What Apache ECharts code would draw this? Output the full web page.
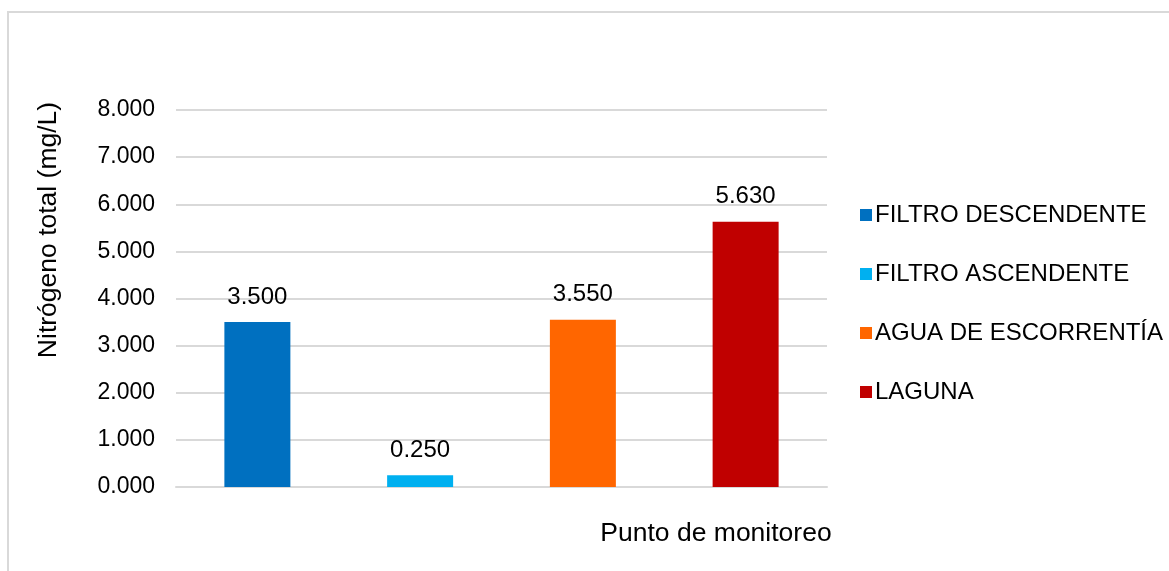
<!DOCTYPE html>
<html>
<head>
<meta charset="utf-8">
<title>Nitrógeno total por punto de monitoreo</title>
<script src="https://cdn.jsdelivr.net/npm/echarts@6/dist/echarts.min.js"></script>
<style>
  html, body { margin: 0; padding: 0; background: #ffffff; }
  #chart { width: 1169px; height: 571px; }
</style>
</head>
<body>
<div id="chart"></div>
<script>
// Monitoring points (one bar each) and total nitrogen values in mg/L
const puntos = ['FILTRO DESCENDENTE', 'FILTRO ASCENDENTE', 'AGUA DE ESCORRENTÍA', 'LAGUNA'];
const nitrogeno = [3.5, 0.25, 3.55, 5.63];
const colores = ['#0070C0', '#00B0F0', '#FF6600', '#C00000'];
const yTicks = [0, 1, 2, 3, 4, 5, 6, 7, 8];

const FONT = '"Liberation Sans", Arial, sans-serif';

const chart = echarts.init(document.getElementById('chart'), null, { renderer: 'canvas' });

// Each series holds a single value in its own category slot, so the bar sits centred there
const series = puntos.map((nombre, i) => ({
  name: nombre,
  type: 'bar',
  stack: 'total',
  barWidth: 66,
  itemStyle: { color: colores[i] },
  data: puntos.map((_, j) => (j === i ? nitrogeno[i] : '-')),
  label: {
    show: true,
    position: 'top',
    distance: 13,
    color: '#000000',
    fontFamily: FONT,
    fontSize: 24,
    formatter: p => Number(p.value).toFixed(3)
  }
}));

chart.setOption({
  animation: false,
  backgroundColor: '#ffffff',
  textStyle: { fontFamily: FONT },
  grid: { left: 176, right: 342, top: 110, bottom: 84, containLabel: false },
  legend: {
    orient: 'vertical',
    left: 855,
    top: 198,
    itemWidth: 12,
    itemHeight: 12,
    itemGap: 35,
    icon: 'rect',
    data: puntos,
    textStyle: { fontFamily: FONT, fontSize: 24, color: '#000000', lineHeight: 23, padding: [0, 0, 0, -2] }
  },
  xAxis: {
    type: 'category',
    data: puntos,
    axisLabel: { show: false },
    axisTick: { show: false },
    axisLine: { show: true, lineStyle: { color: '#d9d9d9', width: 2 } },
    splitLine: { show: false }
  },
  yAxis: {
    type: 'value',
    min: yTicks[0],
    max: yTicks[yTicks.length - 1],
    interval: 1,
    axisLine: { show: false },
    axisTick: { show: false },
    splitLine: { show: true, lineStyle: { color: '#d9d9d9', width: 2 } },
    axisLabel: {
      margin: 21,
      color: '#000000',
      fontFamily: FONT,
      fontSize: 23,
      formatter: v => v.toFixed(3)
    }
  },
  graphic: [
    {
      type: 'rect',
      shape: { x: 8, y: 12, width: 1200, height: 620 },
      style: { fill: 'none', stroke: '#d9d9d9', lineWidth: 2 },
      silent: true
    },
    {
      type: 'text',
      x: 49,
      y: 230,
      rotation: Math.PI / 2,
      style: {
        text: 'Nitrógeno total (mg/L)',
        fill: '#000000',
        font: '26.5px ' + FONT,
        align: 'center',
        verticalAlign: 'middle'
      }
    },
    {
      type: 'text',
      x: 716,
      y: 534,
      style: {
        text: 'Punto de monitoreo',
        fill: '#000000',
        font: '26.5px ' + FONT,
        align: 'center',
        verticalAlign: 'middle'
      }
    }
  ],
  series: series
});
</script>
</body>
</html>
